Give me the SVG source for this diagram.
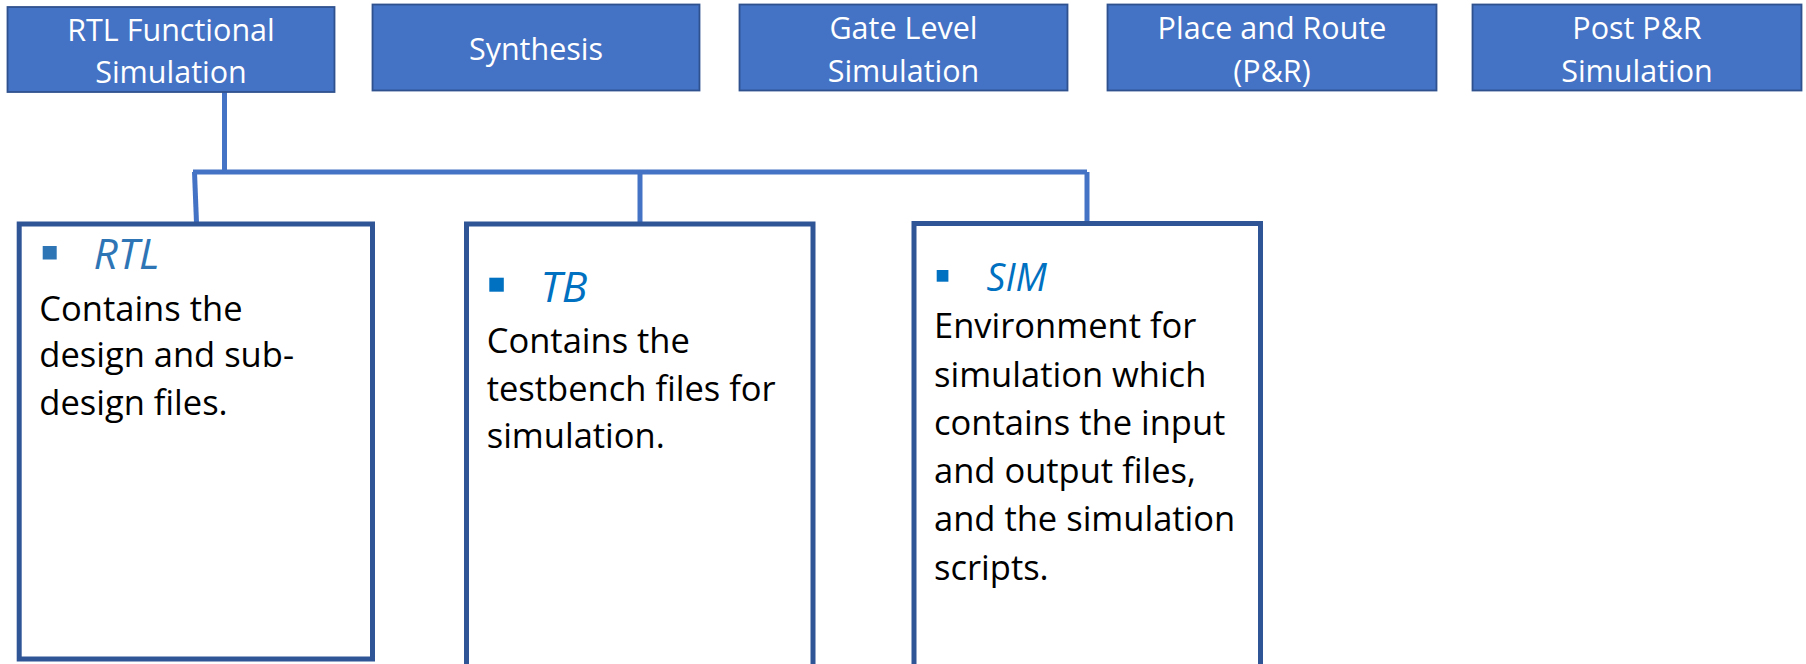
<svg xmlns="http://www.w3.org/2000/svg" width="1806" height="664" viewBox="0 0 1806 664">
<style>
.top{fill:#4472C4;stroke:#2F528F;stroke-width:1.8}
.tt{font-family:"Open Sans","Liberation Sans",sans-serif;font-size:30.5px;fill:#FFFFFF;text-anchor:middle}
.box{fill:#FFFFFF;stroke:#2F5597;stroke-width:5}
.hd{font-family:"Open Sans","Liberation Sans",sans-serif;font-style:italic;fill:#0070C0}
.bd{font-family:"Open Sans","Liberation Sans",sans-serif;font-size:34.5px;fill:#000000}
.conn{fill:none;stroke:#4472C4;stroke-width:5}
</style>
<rect width="1806" height="664" fill="#FFFFFF"/>
<g id="connectors">
<path class="conn" d="M224.5,92 V172"/>
<path class="conn" d="M193,172 H1087"/>
<path class="conn" d="M194.5,172 L196.5,223"/>
<path class="conn" d="M640,172 V223"/>
<path class="conn" d="M1087,172 V223"/>
</g>
<g id="node-rtl-sim">
<rect class="top" x="7.5" y="7" width="327" height="85"/>
<text class="tt" x="171" y="40.7">RTL Functional</text>
<text class="tt" x="171" y="82.7">Simulation</text>
</g>
<g id="node-synthesis">
<rect class="top" x="372.5" y="4.5" width="327" height="86"/>
<text class="tt" x="536" y="60">Synthesis</text>
</g>
<g id="node-gate">
<rect class="top" x="739.5" y="4.5" width="328" height="86"/>
<text class="tt" x="903.5" y="39.3">Gate Level</text>
<text class="tt" x="903.5" y="82.3">Simulation</text>
</g>
<g id="node-pr">
<rect class="top" x="1107.5" y="4.5" width="329" height="86"/>
<text class="tt" x="1272" y="39.3">Place and Route</text>
<text class="tt" x="1272" y="81.7">(P&amp;R)</text>
</g>
<g id="node-post">
<rect class="top" x="1472.5" y="4.5" width="329" height="86"/>
<text class="tt" x="1637" y="39">Post P&amp;R</text>
<text class="tt" x="1637" y="81.7">Simulation</text>
</g>
<g id="node-rtl">
<rect class="box" x="19.2" y="224" width="353.3" height="435"/>
<rect x="42.7" y="246" width="14" height="13.5" fill="#2E75B6"/>
<text class="hd" x="93.5" y="269.3" font-size="42.5" style="fill:#2E75B6">RTL</text>
<text class="bd" x="39.3" y="320.7">Contains the</text>
<text class="bd" x="39.3" y="367.2">design and sub-</text>
<text class="bd" x="39.3" y="414.5">design files.</text>
</g>
<g id="node-tb">
<rect class="box" x="466.5" y="224" width="346.5" height="480"/>
<rect x="489.3" y="277.7" width="14.5" height="14" fill="#0070C0"/>
<text class="hd" x="540.5" y="301.7" font-size="42.5">TB</text>
<text class="bd" x="486.7" y="353.3">Contains the</text>
<text class="bd" x="486.7" y="400.8">testbench files for</text>
<text class="bd" x="486.7" y="448.3">simulation.</text>
</g>
<g id="node-sim">
<rect class="box" x="914" y="223.5" width="346.5" height="480"/>
<rect x="936.7" y="270" width="11.7" height="11.7" fill="#0070C0"/>
<text class="hd" x="986.5" y="290.7" font-size="37.5">SIM</text>
<text class="bd" x="934" y="338.3">Environment for</text>
<text class="bd" x="934" y="386.6">simulation which</text>
<text class="bd" x="934" y="434.8">contains the input</text>
<text class="bd" x="934" y="483.1">and output files,</text>
<text class="bd" x="934" y="531.4">and the simulation</text>
<text class="bd" x="934" y="579.6">scripts.</text>
</g>
</svg>
